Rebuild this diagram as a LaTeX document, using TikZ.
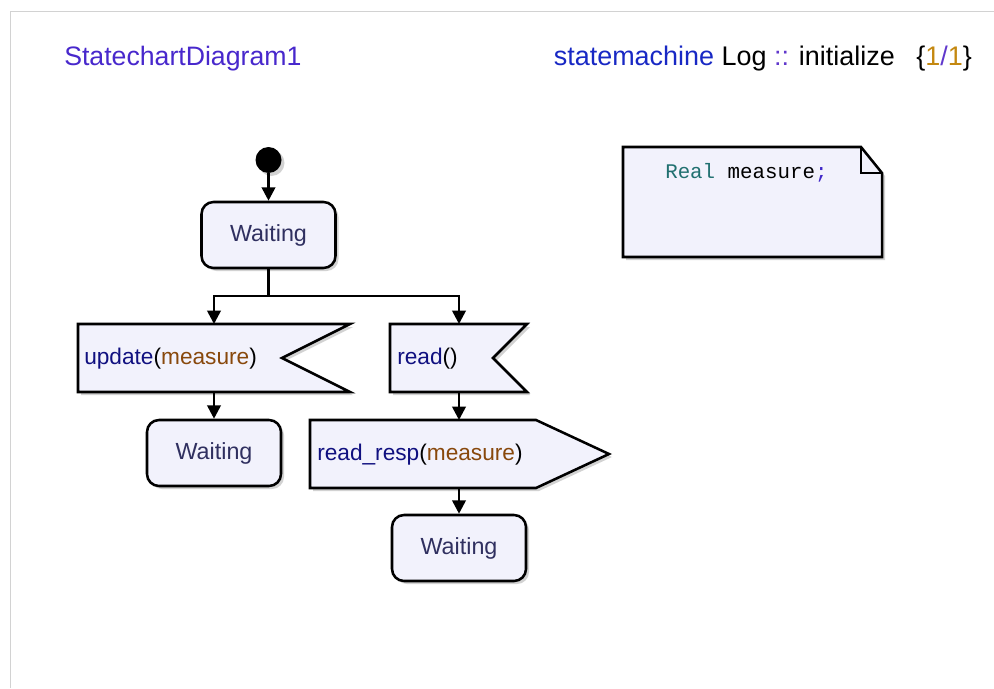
\documentclass[tikz,border=0pt]{standalone}
\usepackage{fontspec}
\setmainfont{Liberation Sans}
\setmonofont{Liberation Mono}
\usetikzlibrary{arrows.meta,shadows}
\definecolor{boxfill}{RGB}{242,242,252}
\definecolor{waittext}{RGB}{48,48,96}
\definecolor{titleblue}{RGB}{72,40,204}
\definecolor{kwblue}{RGB}{24,40,196}
\definecolor{oppurple}{RGB}{96,56,204}
\definecolor{sigblue}{RGB}{16,16,128}
\definecolor{argbrown}{RGB}{136,72,12}
\definecolor{numgold}{RGB}{196,136,16}
\definecolor{typeteal}{RGB}{32,112,112}
\definecolor{semiblue}{RGB}{64,40,200}
\definecolor{framegray}{RGB}{210,210,210}
\tikzset{
  shad/.style={drop shadow={shadow xshift=2.25pt,shadow yshift=-2.25pt,fill=black!35,opacity=0.5}},
  shapeline/.style={draw=black,line width=1.9pt,fill=boxfill,line join=miter},
  statebox/.style={shapeline,shad,rounded corners=9pt,minimum width=100.5pt,minimum height=49.5pt,
    text=waittext,font=\fontsize{17.5}{20}\selectfont,inner sep=0pt},
  initdot/.style={circle,fill=black,minimum size=19.5pt,inner sep=0pt,shad},
  conn/.style={draw=black,line width=2pt},
  arr/.style={conn,-{Triangle[length=10pt,width=10pt]}},
  sigtext/.style={anchor=west,font=\fontsize{17}{20}\selectfont,inner sep=0pt},
}
\begin{document}
\begin{tikzpicture}[x=0.75pt,y=-0.75pt]
\useasboundingbox (0,0) rectangle (994,688);
\draw[framegray,line width=0.75pt] (10,688) -- (10,12) -- (994,12);

% header
\node[anchor=base west,inner sep=0pt,font=\fontsize{20}{24}\selectfont,text=titleblue] (title) at (64,66) {StatechartDiagram1};
\node[anchor=base east,inner sep=0pt,font=\fontsize{20.2}{24}\selectfont] (header) at (972,66)
  {\textcolor{kwblue}{statemachine} Log \textcolor{oppurple}{::} initialize\hspace{0.8em}\{\textcolor{numgold}{1}\textcolor{oppurple}{/}\textcolor{numgold}{1}\}};

% initial state and first Waiting
\node[initdot] (init) at (268.5,160) {};
\node[statebox] (w1) at (268.5,235) {Waiting};

% update(measure) signal receipt
\path[shapeline,shad] (78,324) -- (350,324) -- (282,358) -- (350,392) -- (78,392) -- cycle;
\coordinate (ut) at (214,324);
\coordinate (ub) at (214,392);
\node[sigtext] (tu) at (84,359) {\textcolor{sigblue}{update}(\textcolor{argbrown}{measure})};

% read() signal receipt
\path[shapeline,shad] (390,324) -- (527,324) -- (493,358) -- (527,392) -- (390,392) -- cycle;
\coordinate (rt) at (459,324);
\coordinate (rb) at (459,392);
\node[sigtext] (tr) at (397,359) {\textcolor{sigblue}{read}()};

% read_resp(measure) send signal
\path[shapeline,shad] (310,420) -- (536,420) -- (609,454) -- (536,488) -- (310,488) -- cycle;
\coordinate (st) at (459,420);
\coordinate (sb) at (459,488);
\node[sigtext] (ts) at (317,455) {\textcolor{sigblue}{read\_resp}(\textcolor{argbrown}{measure})};

% Waiting states
\node[statebox] (w2) at (214,453) {Waiting};
\node[statebox] (w3) at (459,548) {Waiting};

% note
\path[shapeline,shad] (623,147) -- (861,147) -- (882,173) -- (882,257) -- (623,257) -- cycle;
\draw[conn] (861,147) -- (861,173) -- (882,173);
\node[anchor=west,inner sep=0pt,font=\ttfamily\fontsize{15.6}{18}\selectfont] (note) at (665,173)
  {\textcolor{typeteal}{Real} measure\textcolor{semiblue}{;}};

% connectors
\coordinate (j) at (268.5,296);
\draw[arr] (init) -- (w1);
\draw[conn] (w1.south) -- (j);
\draw[arr] (j) -| (ut);
\draw[arr] (j) -| (rt);
\draw[arr] (ub) -- (w2.north);
\draw[arr] (rb) -- (st);
\draw[arr] (sb) -- (w3.north);
\end{tikzpicture}
\end{document}
